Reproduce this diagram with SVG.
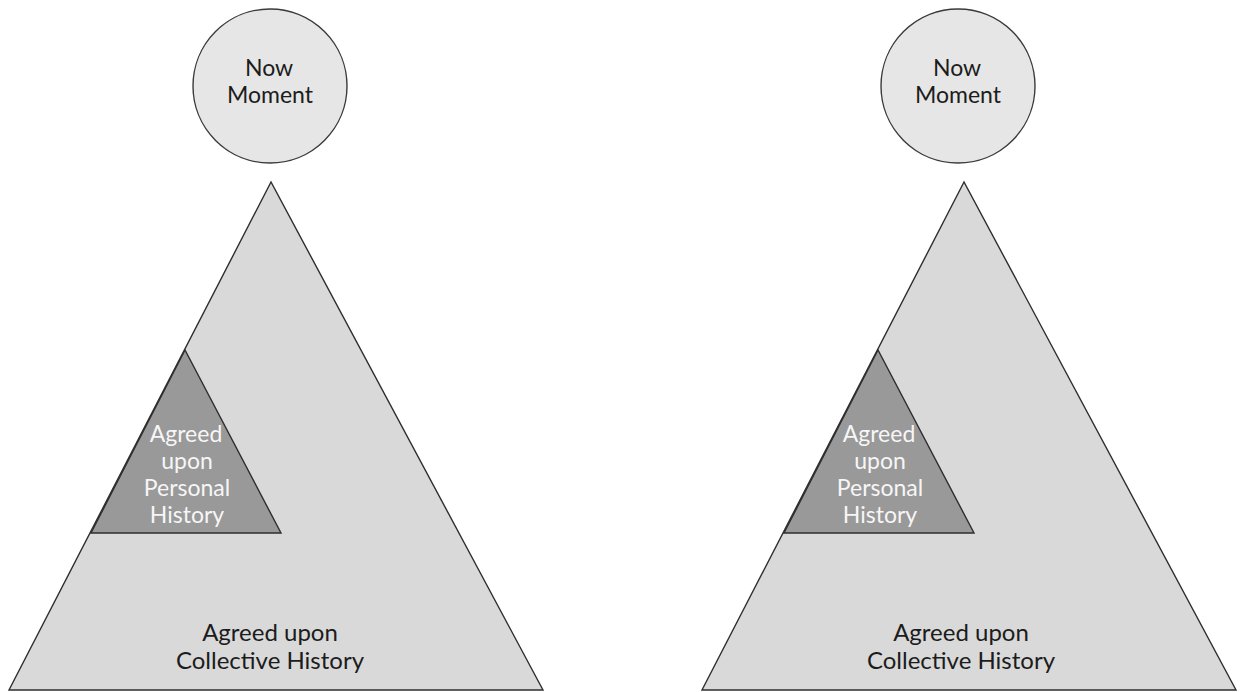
<svg xmlns="http://www.w3.org/2000/svg" width="1241" height="692" viewBox="0 0 1241 692">
<style>
.bg{fill:#ffffff}
.circ{fill:#e6e6e6;stroke:#3a3a3a;stroke-width:1.4}
.big{fill:#d9d9d9;stroke:#2e2e2e;stroke-width:1.4}
.small{fill:#999999;stroke:#2e2e2e;stroke-width:1.4}
.t{font-family:Lato,"Open Sans","Liberation Sans",sans-serif;text-anchor:middle}
.dark{fill:#1c1c1c;font-size:23px}
.white{fill:#f6f6f6;font-size:23px}
.coll{fill:#1c1c1c;font-size:24px}
</style>
<rect class="bg" x="0" y="0" width="1241" height="692"/>
<g id="left-collective">
<polygon class="big" points="271,182 9,690 543,690"/>
<text class="t coll" x="270" y="641">Agreed upon</text>
<text class="t coll" x="270" y="669">Collective History</text>
</g>
<g id="left-personal">
<polygon class="small" points="185,350 91,533 281,533"/>
<text class="t white" x="186" y="442">Agreed</text>
<text class="t white" x="187" y="469">upon</text>
<text class="t white" x="187" y="496">Personal</text>
<text class="t white" x="187" y="523">History</text>
</g>
<g id="left-now">
<circle class="circ" cx="270" cy="86" r="77"/>
<text class="t dark" x="269" y="76">Now</text>
<text class="t dark" x="270" y="103">Moment</text>
</g>
<g id="right-collective">
<polygon class="big" points="964,182 702,690 1236,690"/>
<text class="t coll" x="961" y="641">Agreed upon</text>
<text class="t coll" x="961" y="669">Collective History</text>
</g>
<g id="right-personal">
<polygon class="small" points="878,350 784,533 974,533"/>
<text class="t white" x="879" y="442">Agreed</text>
<text class="t white" x="880" y="469">upon</text>
<text class="t white" x="880" y="496">Personal</text>
<text class="t white" x="880" y="523">History</text>
</g>
<g id="right-now">
<circle class="circ" cx="958" cy="86" r="77"/>
<text class="t dark" x="957" y="76">Now</text>
<text class="t dark" x="958" y="103">Moment</text>
</g>
<g id="connectors"></g>
</svg>
